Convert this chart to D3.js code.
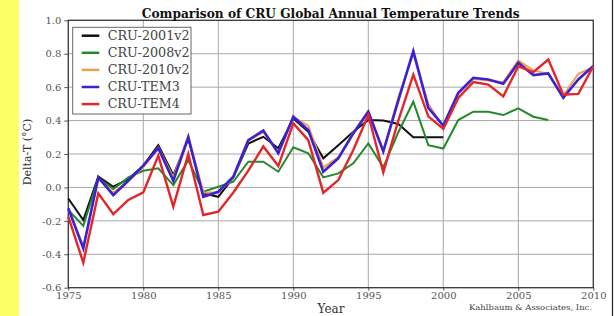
<!DOCTYPE html>
<html>
<head>
<meta charset="utf-8">
<script src="https://cdn.jsdelivr.net/npm/d3@7"></script>
<style>
  body { margin: 0; background: #fff; }
  svg { display: block; }
  .tick text { font-family: "DejaVu Serif", serif; font-size: 10px; fill: #555; }
</style>
</head>
<body>
<svg id="chart" width="614" height="316"></svg>
<script>
// ---- data ----
const years = d3.range(1975, 2011);
const cru2001v2 = [-0.066, -0.195, 0.065, 0.004, 0.05, 0.13, 0.253, 0.074, 0.29, -0.036,
  -0.056, 0.06, 0.263, 0.303, 0.234, 0.413, 0.333, 0.174, 0.253, 0.333,
  0.403, 0.40, 0.38, 0.30, 0.30, 0.30];
const cru2008v2 = [-0.135, -0.23, 0.055, -0.01, 0.06, 0.10, 0.114, 0.014, 0.163, -0.026,
  0.004, 0.034, 0.154, 0.154, 0.094, 0.24, 0.204, 0.06, 0.084, 0.144,
  0.263, 0.12, 0.33, 0.513, 0.253, 0.233, 0.403, 0.453, 0.453, 0.433,
  0.473, 0.423, 0.403];
const cru2010v2 = [-0.13, -0.35, 0.05, -0.03, 0.04, 0.12, 0.24, 0.06, 0.31, -0.03,
  -0.03, 0.06, 0.28, 0.33, 0.21, 0.42, 0.37, 0.12, 0.18, 0.33,
  0.46, 0.22, 0.54, 0.80, 0.50, 0.36, 0.56, 0.65, 0.64, 0.63,
  0.76, 0.70, 0.68, 0.55, 0.68, 0.72];
const cruTem3 = [-0.125, -0.365, 0.06, -0.046, 0.04, 0.13, 0.235, 0.04, 0.30, -0.056,
  -0.026, 0.064, 0.283, 0.34, 0.204, 0.423, 0.343, 0.094, 0.174, 0.323,
  0.453, 0.215, 0.52, 0.816, 0.476, 0.37, 0.566, 0.656, 0.646, 0.62,
  0.746, 0.672, 0.682, 0.536, 0.646, 0.726];
const cruTem4 = [-0.175, -0.45, -0.035, -0.16, -0.075, -0.03, 0.19, -0.115, 0.20, -0.165,
  -0.145, -0.03, 0.10, 0.245, 0.128, 0.383, 0.283, -0.032, 0.044, 0.224,
  0.433, 0.09, 0.40, 0.675, 0.425, 0.35, 0.535, 0.63, 0.615, 0.545,
  0.725, 0.69, 0.765, 0.555, 0.56, 0.725];

const seriesNames = ["CRU-2001v2", "CRU-2008v2", "CRU-2010v2", "CRU-TEM3", "CRU-TEM4"];
const seriesValues = [cru2001v2, cru2008v2, cru2010v2, cruTem3, cruTem4];
const seriesColors = ["#111111", "#25892c", "#f0a04a", "#3a22d4", "#e4262b"];
const seriesWidths = [2, 2, 2, 2.6, 2.4];

const xTicks = d3.range(1975, 2011, 5);
const yTicks = [-0.6, -0.4, -0.2, 0.0, 0.2, 0.4, 0.6, 0.8, 1.0];

// ---- layout ----
const svg = d3.select('#chart');
const plotLeft = 68.3, plotRight = 593.3, plotTop = 20.3, plotBottom = 287.7;

svg.append('rect').attr('x', 0).attr('y', 0).attr('width', 19).attr('height', 316).attr('fill', '#ffff66');
svg.append('line').attr('x1', 612.5).attr('x2', 612.5).attr('y1', 0).attr('y2', 316)
  .attr('stroke', '#222').attr('stroke-width', 1.2);

const x = d3.scaleLinear().domain([1975, 2010]).range([plotLeft, plotRight]);
const y = d3.scaleLinear().domain([-0.6, 1.0]).range([plotBottom, plotTop]);

// grid
const grid = svg.append('g').attr('stroke', '#a8a8a8').attr('stroke-width', 1);
grid.selectAll('.vg').data(xTicks).enter().append('line')
  .attr('x1', d => x(d)).attr('x2', d => x(d)).attr('y1', plotTop).attr('y2', plotBottom);
grid.selectAll('.hg').data(yTicks).enter().append('line')
  .attr('y1', d => y(d)).attr('y2', d => y(d)).attr('x1', plotLeft).attr('x2', plotRight);

// axes
const yAxis = svg.append('g').attr('transform', 'translate(' + plotLeft + ',0)')
  .call(d3.axisLeft(y).tickValues(yTicks).tickFormat(d3.format('.1f')).tickSize(4).tickPadding(3));
const xAxis = svg.append('g').attr('transform', 'translate(0,' + plotBottom + ')')
  .call(d3.axisBottom(x).tickValues(xTicks).tickFormat(d3.format('d')).tickSize(3).tickPadding(1));
[yAxis, xAxis].forEach(a => {
  a.select('.domain').remove();
  a.selectAll('.tick line').attr('stroke', '#555');
});
// plain hyphen for negatives, like the original
yAxis.selectAll('.tick text').text(d => d.toFixed(1));

// frame
svg.append('rect').attr('x', plotLeft).attr('y', plotTop)
  .attr('width', plotRight - plotLeft).attr('height', plotBottom - plotTop)
  .attr('fill', 'none').attr('stroke', '#333').attr('stroke-width', 1.2);

// lines
const line = d3.line().x((d, i) => x(years[i])).y(d => y(d));
seriesValues.forEach((vals, k) => {
  svg.append('path').datum(vals)
    .attr('d', line)
    .attr('fill', 'none')
    .attr('stroke', seriesColors[k])
    .attr('stroke-width', seriesWidths[k])
    .attr('stroke-linejoin', 'miter');
});

// legend
const lg = svg.append('g');
lg.append('rect').attr('x', 72.7).attr('y', 27.3).attr('width', 118.3).attr('height', 86.7)
  .attr('fill', '#fff').attr('stroke', '#666').attr('stroke-width', 1);
seriesNames.forEach((name, i) => {
  const yy = 35.7 + i * 17.1;
  lg.append('line').attr('x1', 81.7).attr('x2', 99.3).attr('y1', yy).attr('y2', yy)
    .attr('stroke', seriesColors[i]).attr('stroke-width', 2.5);
  lg.append('text').attr('x', 107.7).attr('y', yy + 4)
    .attr('font-family', '"DejaVu Serif", serif').attr('font-size', 12).attr('fill', '#444')
    .attr('textLength', i < 3 ? 82 : 72).attr('lengthAdjust', 'spacingAndGlyphs')
    .text(name);
});

// titles
svg.append('text').attr('x', 141.7).attr('y', 18)
  .attr('font-family', '"DejaVu Serif", serif').attr('font-weight', 'bold').attr('font-size', 12)
  .attr('textLength', 378).attr('lengthAdjust', 'spacingAndGlyphs').attr('fill', '#111')
  .text('Comparison of CRU Global Annual Temperature Trends');
svg.append('text').attr('transform', 'translate(31,152) rotate(-90)').attr('text-anchor', 'middle')
  .attr('font-family', '"DejaVu Serif", serif').attr('font-size', 11).attr('fill', '#333')
  .text('Delta-T (°C)');
svg.append('text').attr('x', 331).attr('y', 313).attr('text-anchor', 'middle')
  .attr('font-family', '"DejaVu Serif", serif').attr('font-size', 12).attr('fill', '#333')
  .text('Year');
svg.append('text').attr('x', 469).attr('y', 310)
  .attr('font-family', '"DejaVu Serif", serif').attr('font-size', 7.5).attr('fill', '#444')
  .attr('textLength', 123).attr('lengthAdjust', 'spacingAndGlyphs')
  .text('Kahlbaum & Associates, Inc.');
</script>
</body>
</html>
